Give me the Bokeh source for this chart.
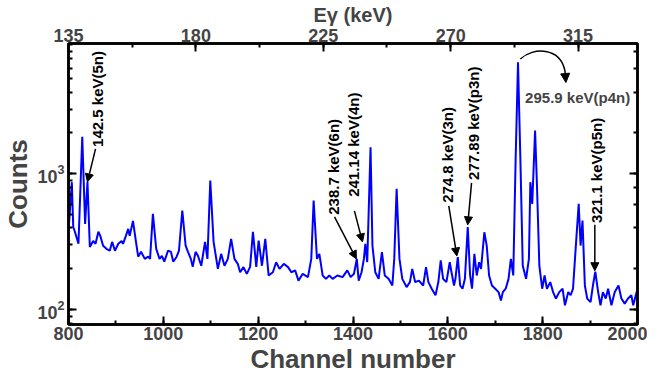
from math import pi
from bokeh.plotting import figure
from bokeh.models import (Range1d, LinearAxis, LogAxis, SingleIntervalTicker, LogTicker,
                          Arrow, NormalHead, Label, ColumnDataSource)
from bokeh.embed import file_html
from bokeh.resources import INLINE
from bokeh.core.properties import value

# ---- spectrum (channel, counts) ----
channels = [800, 807, 810, 813, 821, 829, 835, 840, 845, 852, 857, 863, 867, 873, 880, 887, 892, 898,
            905, 912, 915, 921, 926, 929, 936, 942, 947, 953, 961, 968, 972, 978, 985, 992, 997,
            1002, 1010, 1016, 1021, 1028, 1033, 1040, 1047, 1052, 1058, 1062, 1068, 1073, 1080, 1088,
            1093, 1099, 1106, 1115, 1122, 1129, 1136, 1143, 1150, 1157, 1162, 1169, 1176, 1183, 1189,
            1196, 1201, 1208, 1215, 1222, 1231, 1238, 1245, 1254, 1263, 1270, 1278, 1285, 1294, 1305,
            1312, 1317, 1324, 1329, 1336, 1343, 1350, 1357, 1367, 1378, 1388, 1395, 1402, 1408, 1412,
            1418, 1423, 1426, 1430, 1437, 1441, 1447, 1454, 1461, 1467, 1475, 1483, 1487, 1492, 1498,
            1504, 1513, 1520, 1525, 1531, 1539, 1548, 1554, 1559, 1566, 1574, 1580, 1585, 1590, 1597,
            1604, 1609, 1613, 1616, 1621, 1626, 1631, 1636, 1642, 1647, 1651, 1656, 1661, 1666, 1670,
            1677, 1682, 1687, 1693, 1700, 1707, 1712, 1716, 1722, 1728, 1733, 1738, 1743, 1748, 1753,
            1758, 1765, 1771, 1774, 1778, 1784, 1788, 1793, 1799, 1804, 1809, 1816, 1822, 1828, 1835,
            1842, 1847, 1854, 1859, 1864, 1870, 1876, 1880, 1884, 1889, 1894, 1901, 1906, 1911, 1917,
            1922, 1927, 1933, 1938, 1945, 1952, 1960, 1966, 1973, 1980, 1987, 1991, 1999]
counts = [375, 869, 407, 380, 306, 1872, 429, 874, 290, 321, 306, 375, 350, 296, 281, 272, 316, 272,
          306, 321, 306, 350, 394, 350, 451, 321, 246, 267, 237, 246, 237, 508, 281, 237, 249,
          226, 273, 267, 226, 246, 273, 537, 297, 267, 237, 207, 267, 250, 211, 316,
          237, 893, 316, 200, 258, 211, 237, 333, 237, 218, 189, 206, 184, 207, 375,
          207, 323, 211, 333, 179, 189, 224, 200, 218, 206, 189, 195, 164, 184, 174,
          237, 637, 237, 258, 179, 169, 179, 169, 179, 174, 195, 174, 184, 237, 164,
          189, 237, 306, 224, 1571, 297, 189, 169, 266, 179, 169, 151, 237, 776, 237,
          169, 147, 160, 200, 160, 164, 151, 206, 160, 143, 128, 160, 231, 169, 160,
          224, 179, 151, 169, 244, 151, 143, 169, 406, 179, 143, 258, 179, 224, 200,
          372, 297, 179, 151, 143, 135, 117, 135, 143, 169, 237, 179, 1289, 6623, 1289,
          211, 169, 237, 869, 602, 2080, 820, 211, 143, 179, 143, 160, 135, 121, 135,
          143, 108, 135, 128, 143, 297, 602, 297, 454, 151, 121, 114, 151, 191, 135,
          108, 135, 121, 143, 108, 135, 151, 121, 111, 121, 128, 108, 139]

# ---- peak labels ----
ann_text = ["142.5 keV(5n)", "238.7 keV(6n)", "241.14 keV(4n)", "274.8 keV(3n)",
            "277.89 keV(p3n)", "321.1 keV(p5n)"]
ann_text_x = [861, 1359, 1401, 1600, 1654, 1914]
ann_text_y = [1579, 500, 678, 612, 903, 436]
ann_start_x = [857, 1361, 1403, 1602, 1650, 1910]
ann_start_y = [1527, 483, 534, 582, 858, 422]
ann_tip_x = [840, 1407, 1420, 1619, 1642, 1910]
ann_tip_y = [873, 237, 316, 249, 422, 194]

big_text = "295.9 keV(p4n)"
big_text_pos = (1763, 3622)
curve = dict(x0=[1753], y0=[7006], cx0=[1780], cy0=[8586], cx1=[1837], cy1=[8586], x1=[1847], y1=[5718])
curve_tip = (1849, 4700)

FONT = "Liberation Sans"

p = figure(width=647, height=376, y_axis_type="log",
           x_range=Range1d(800, 2000), y_range=Range1d(78, 9100),
           output_backend="svg", toolbar_location=None,
           min_border_left=0, min_border_right=10, min_border_top=0, min_border_bottom=0)
p.xgrid.visible = False
p.ygrid.visible = False
p.outline_line_color = "black"
p.outline_line_width = 2.5

bottom = p.below[0]
left = p.left[0]
bottom.ticker = SingleIntervalTicker(interval=200, num_minor_ticks=2)
bottom.axis_label = "Channel number"
left.axis_label = "Counts"

p.extra_x_ranges = {"E": Range1d(135, 336)}
top = LinearAxis(x_range_name="E", ticker=SingleIntervalTicker(interval=45, num_minor_ticks=2),
                 axis_label="Eγ (keV)")
p.add_layout(top, "above")
right = LogAxis(ticker=LogTicker())
p.add_layout(right, "right")

for ax in (bottom, left, top, right):
    ax.axis_line_width = 2.5
    ax.major_tick_in = 8
    ax.major_tick_out = 0
    ax.minor_tick_in = 4
    ax.minor_tick_out = 0
    ax.major_tick_line_width = 2
    ax.minor_tick_line_width = 2
    ax.major_label_text_font = FONT
    ax.major_label_text_font_style = "bold"
    ax.major_label_text_font_size = "18px"
    ax.major_label_standoff = 2
    ax.axis_label_text_font = FONT
    ax.axis_label_text_font_style = "bold"
    ax.axis_label_text_font_size = "26px"
    ax.axis_label_standoff = 1

left.major_label_standoff = 4
top.axis_label_text_font_size = "20px"
top.axis_label_standoff = 0
right.major_label_text_font_size = "2px"
right.major_label_text_alpha = 0
right.major_label_standoff = 0

p.line(channels, counts, line_color="#0000FF", line_width=2)

p.text(x=ann_text_x, y=ann_text_y, text=ann_text, angle=pi / 2,
       text_align="left", text_baseline="middle",
       text_font=value(FONT), text_font_style="bold", text_font_size="15px", text_color="black")

arrow_src = ColumnDataSource(dict(xs=ann_start_x, ys=ann_start_y, xe=ann_tip_x, ye=ann_tip_y))
p.add_layout(Arrow(end=NormalHead(size=8, fill_color="black", line_color="black"),
                   x_start="xs", y_start="ys", x_end="xe", y_end="ye",
                   source=arrow_src, line_width=1.5, line_color="black"))

p.bezier(line_color="black", line_width=1.5, **curve)
p.add_layout(Arrow(end=NormalHead(size=9, fill_color="black", line_color="black"),
                   x_start=curve["x1"][0], y_start=curve["y1"][0],
                   x_end=curve_tip[0], y_end=curve_tip[1], line_width=1.5, line_color="black"))

p.add_layout(Label(x=big_text_pos[0], y=big_text_pos[1], text=big_text,
                   text_align="left", text_baseline="middle",
                   text_font=FONT, text_font_style="bold", text_font_size="15px"))

open("out.html", "w").write(file_html(p, INLINE))
